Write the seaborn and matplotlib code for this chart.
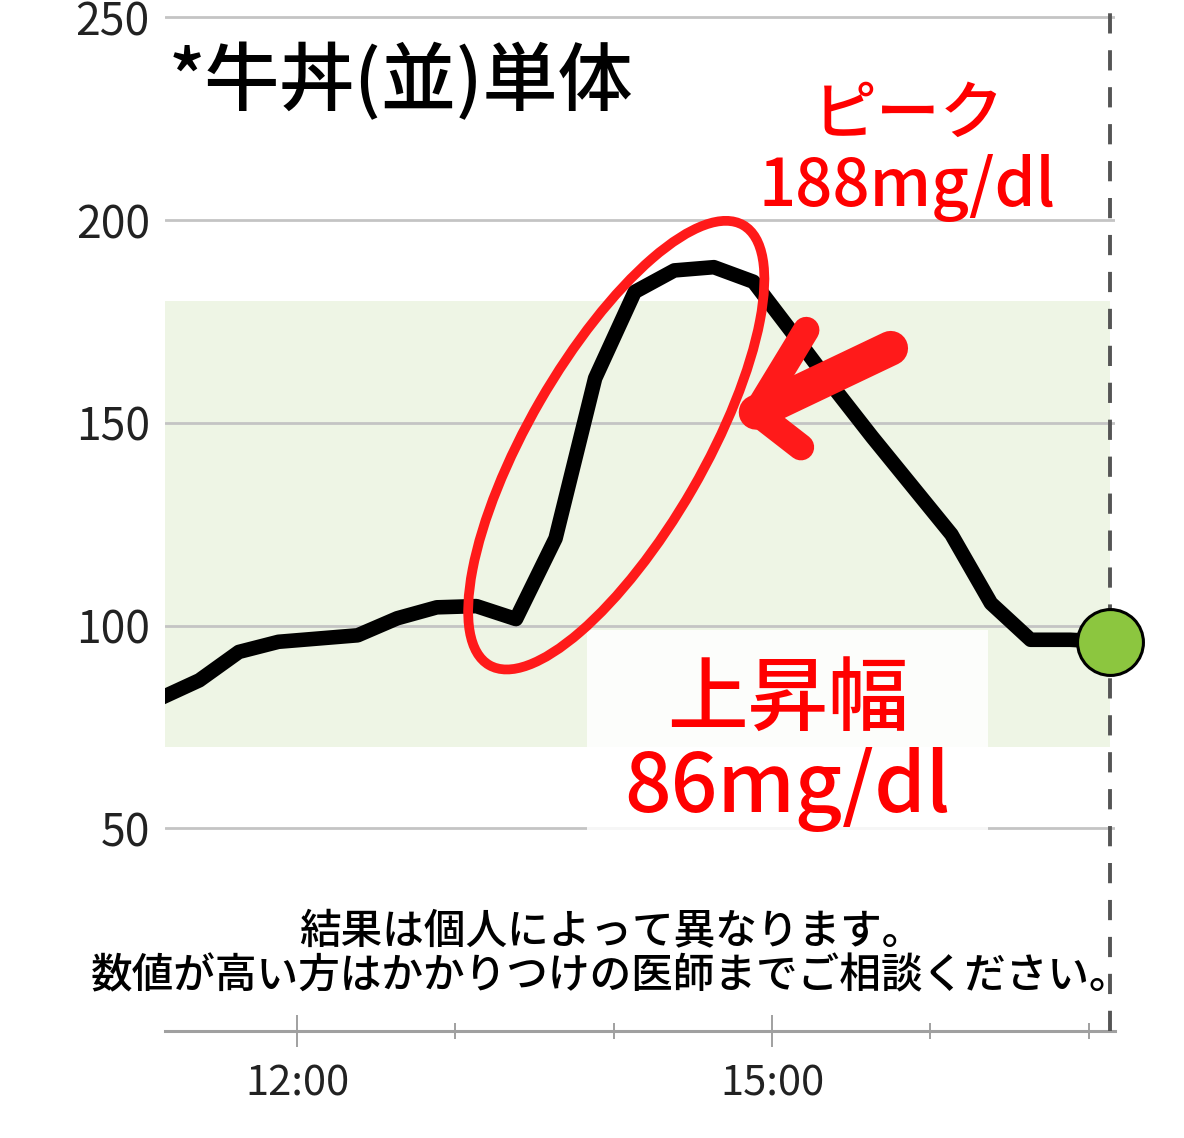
import numpy as np
import pandas as pd
import matplotlib
matplotlib.use('Agg')
import matplotlib.pyplot as plt
import matplotlib.dates as mdates
import matplotlib.transforms as mtransforms
from matplotlib.patches import Ellipse, Rectangle
import seaborn as sns

sns.set_theme(style='white')
plt.rcParams['font.family'] = ['Noto Sans CJK JP', 'DejaVu Sans']

# ---- data ----
day = '2023-01-01 '
times = ['11:08', '11:23', '11:38', '11:53', '12:08', '12:23', '12:38', '12:53',
         '13:08', '13:23', '13:38', '13:53', '14:08', '14:23', '14:38', '14:53',
         '15:08', '15:23', '15:38', '15:53', '16:08', '16:23', '16:38', '16:53',
         '17:08']
glucose = [82, 86.5, 93.5, 96, 96.8, 97.6, 101.8, 104.5,
           104.8, 101.6, 121.5, 161, 182.3, 187.6, 188.4, 184.8,
           172, 159, 146.5, 134.5, 122.5, 105.5, 96.5, 96.5,
           96]
target_range = [70, 180]
y_ticks = [50, 100, 150, 200, 250]
x_range = ['11:10', '17:10']
now_time = '17:08'

title = '*牛丼(並)単体'
peak_label = ['ピーク', '188mg/dl']
rise_label = ['上昇幅', '86mg/dl']
note_lines = ['結果は個人によって異なります。',
              '数値が高い方はかかりつけの医師までご相談ください。']

# hand drawn marks (time, mg/dl)
ellipse_center = ('14:01', 144.5)
arrow_tip = ('14:54', 152.6)
arrow_tail = ('15:45', 168.4)
arrow_head_up = ('15:13', 172.9)
arrow_head_down = ('15:11', 144.0)
box_x = ['13:50', '16:22']
box_y = [49.3, 98.9]

red = '#ff1a1a'
text_red = '#ff0000'

def t(s):
    return pd.Timestamp(day + s)

df = pd.DataFrame({'time': [t(s) for s in times], 'glucose': glucose})

fig = plt.figure(figsize=(11.84, 11.38), dpi=100)
ax = fig.add_axes([165 / 1184, 107 / 1138, 950 / 1184, 1031 / 1138])

# target band
ax.fill_between([t(x_range[0]), t(now_time)], target_range[0], target_range[1],
                color='#eef5e5', lw=0, zorder=0)

sns.lineplot(data=df, x='time', y='glucose', color='black', lw=10.5, ax=ax, zorder=3)
ax.lines[-1].set_solid_joinstyle('round')
ax.lines[-1].set_solid_capstyle('butt')

ax.axvline(t(now_time), color='#555555', lw=2.8, ls=(0, (5.2, 4.3)), zorder=4)

last = df.iloc[[-1]]
sns.scatterplot(data=last, x='time', y='glucose', s=2250, color='#8cc63f',
                edgecolor='black', linewidth=2.2, zorder=7, ax=ax, clip_on=False,
                legend=False)

# axes styling
ax.set_xlim(t(x_range[0]), t(x_range[1]))
ax.set_ylim(0, 254.3)
ax.set_yticks(y_ticks)
ax.yaxis.grid(True, color='#c4c4c4', lw=2)
ax.xaxis.grid(False)
ax.set_axisbelow(True)
ax.xaxis.set_major_locator(mdates.HourLocator(byhour=[12, 15]))
ax.xaxis.set_minor_locator(mdates.HourLocator())
ax.xaxis.set_major_formatter(mdates.DateFormatter('%H:%M'))
ax.tick_params(axis='x', which='major', direction='inout', length=23, width=1.3,
               color='#999999', pad=12, labelsize=30, labelcolor='#222222', bottom=True)
ax.tick_params(axis='x', which='minor', direction='inout', length=11.5, width=1.3,
               color='#999999', bottom=True)
ax.tick_params(axis='y', length=0, pad=11, labelsize=32, labelcolor='#222222')
for side in ['top', 'left', 'right']:
    ax.spines[side].set_visible(False)
ax.spines['bottom'].set_color('#a0a0a0')
ax.spines['bottom'].set_linewidth(2.2)
ax.set_xlabel('')
ax.set_ylabel('')

# white box behind rise label
bx0, bx1 = mdates.date2num(t(box_x[0])), mdates.date2num(t(box_x[1]))
ax.add_patch(Rectangle((bx0, box_y[0]), bx1 - bx0, box_y[1] - box_y[0],
                       facecolor='white', alpha=0.85, lw=0, zorder=2.5))

# red ellipse around the rise
cx = mdates.date2num(t(ellipse_center[0]))
trans = fig.dpi_scale_trans + mtransforms.ScaledTranslation(cx, ellipse_center[1], ax.transData)
ax.add_patch(Ellipse((0, 0), width=5.08, height=1.76, angle=60, transform=trans,
                     fill=False, edgecolor=red, lw=7, zorder=6, clip_on=False))

# red arrow
ax.plot([t(arrow_tail[0]), t(arrow_tip[0])], [arrow_tail[1], arrow_tip[1]],
        color=red, lw=25, solid_capstyle='round', zorder=6)
ax.plot([t(arrow_head_up[0]), t(arrow_tip[0]), t(arrow_head_down[0])],
        [arrow_head_up[1], arrow_tip[1], arrow_head_down[1]],
        color=red, lw=19, solid_capstyle='round', solid_joinstyle='round', zorder=6)

# texts
fig.text(169 / 1184, 1 - 83 / 1138, title, fontsize=54, ha='left', va='center',
         color='black', fontweight='medium')
fig.text(909 / 1184, 1 - 115 / 1138, peak_label[0], fontsize=46, ha='center', va='center',
         color=text_red, fontweight='medium')
fig.text(907 / 1184, 1 - 188 / 1138, peak_label[1], fontsize=47, ha='center', va='center',
         color=text_red, fontweight='medium')
fig.text(788 / 1184, 1 - 700 / 1138, rise_label[0], fontsize=58, ha='center', va='center',
         color=text_red, fontweight='medium')
fig.text(787 / 1184, 1 - 790 / 1138, rise_label[1], fontsize=59, ha='center', va='center',
         color=text_red, fontweight='medium')
fig.text(611 / 1184, 1 - 931 / 1138, note_lines[0], fontsize=30, ha='center', va='center',
         color='black', fontweight='medium')
fig.text(611 / 1184, 1 - 976 / 1138, note_lines[1], fontsize=30, ha='center', va='center',
         color='black', fontweight='medium')

fig.savefig('out.png', dpi=100)
